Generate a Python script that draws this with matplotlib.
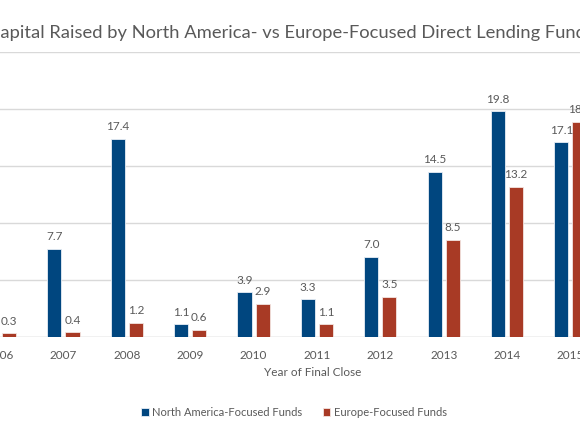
import matplotlib
matplotlib.use("Agg")
import numpy as np
from matplotlib import pyplot as plt

# data (USD bn)
years = ["2006", "2007", "2008", "2009", "2010", "2011", "2012", "2013", "2014", "2015"]
north_america = [2.0, 7.7, 17.4, 1.1, 3.9, 3.3, 7.0, 14.5, 19.8, 17.1]
europe = [0.3, 0.4, 1.2, 0.6, 2.9, 1.1, 3.5, 8.5, 13.2, 18.9]

blue = "#00467f"
red = "#a83a25"
grey = "#595959"

plt.rcParams["font.family"] = ["Lato", "DejaVu Sans"]

fig = plt.figure(figsize=(5.8, 4.35), dpi=100)
ax = fig.add_axes([0.0, 0.2237, 1.0, 0.6538])

x = np.arange(len(years))
width = 0.223
offset = 0.143

bars_na = ax.bar(x - offset, north_america, width, color=blue, edgecolor="#e8eef5",
                 linewidth=0.6, label="North America-Focused Funds", zorder=3)
bars_eu = ax.bar(x + offset, europe, width, color=red, edgecolor="#f3e4e1",
                 linewidth=0.6, label="Europe-Focused Funds", zorder=3)

# value labels above the bars
for bars in (bars_na, bars_eu):
    for b in bars:
        ax.annotate(f"{b.get_height():.1f}", (b.get_x() + b.get_width() / 2, b.get_height()),
                    xytext=(0, 5.5), textcoords="offset points", ha="center", va="bottom",
                    fontsize=8.5, color=grey, clip_on=False)

ax.set_xlim(0.115, 9.15)
ax.set_ylim(0, 25)
ax.set_yticks([0, 5, 10, 15, 20, 25])
ax.yaxis.grid(True, color="#d9d9d9", linewidth=1, zorder=0)
ax.tick_params(axis="y", left=False, labelleft=False)
ax.set_xticks(x)
ax.set_xticklabels(years)
ax.tick_params(axis="x", length=0, pad=9, labelsize=8.5, labelcolor=grey)
for s in ax.spines.values():
    s.set_visible(False)
ax.axhline(0, color="#d9d9d9", linewidth=1, zorder=2)

fig.text(313 / 580, 1 - 373 / 435, "Year of Final Close", ha="center", va="center",
         fontsize=8.5, color=grey)

fig.text(-0.02, 1 - 33 / 435,
         "Capital Raised by North America- vs Europe-Focused Direct Lending Funds",
         ha="left", va="center", fontsize=13.2, color=grey)

fig.legend(loc="center", bbox_to_anchor=(294 / 580, 1 - 413 / 435), ncol=2, frameon=False,
           fontsize=8, labelcolor=grey, handlelength=0.7, handleheight=0.7,
           handletextpad=0.3, columnspacing=1.8)

fig.savefig("out.png", dpi=100)
